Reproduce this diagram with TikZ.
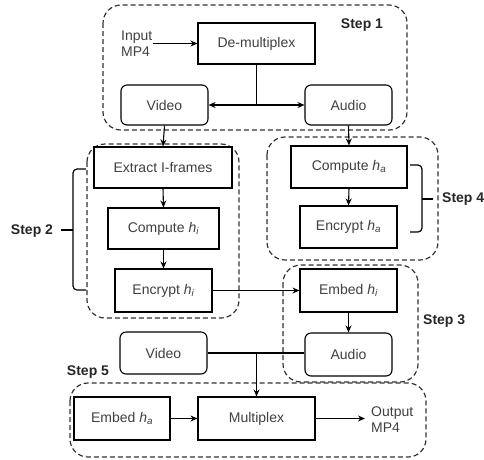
\documentclass[tikz,border=0pt]{standalone}
\usepackage{fontspec}
\setmainfont{Liberation Sans}
\usetikzlibrary{arrows.meta,calc}

\newcommand{\hs}[1]{\textit{h}\textsubscript{\textit{#1}}}

\begin{document}
\begin{tikzpicture}[x=1pt,y=-1pt,
  box/.style={draw=black, line width=1.1pt, fill=white, text=black!75,
    font=\fontsize{14}{16}\selectfont, inner sep=0pt},
  rbox/.style={box, rounded corners=6pt},
  frame/.style={draw=black!80, line width=1.2pt, dash pattern=on 5pt off 3pt,
    rounded corners=18pt},
  wire/.style={line width=1.1pt, draw=black},
  arr/.style={wire, -{Stealth[length=7pt,width=6pt]}},
  steplabel/.style={font=\fontsize{14}{16}\selectfont\bfseries, text=black!85, inner sep=0pt},
  plain/.style={font=\fontsize{14}{16}\selectfont, text=black!75, inner sep=0pt, align=left}
]
\useasboundingbox (0,0) rectangle (484,459);

% dashed step frames
\draw[frame] (103,5) rectangle (407,130);
\draw[frame] (87,144) rectangle (239,318);
\draw[frame] (267,137) rectangle (438,260);
\draw[frame] (283,265) rectangle (418,382);
\draw[frame] (70,383) rectangle (426,457);

% step 1
\node[plain, anchor=west] (inmp4) at (121,44) {Input\\MP4};
\node[box, minimum width=117pt, minimum height=41pt] (demux) at (256.5,43.5) {De-multiplex};
\node[rbox, minimum width=87pt, minimum height=40pt] (video1) at (164.5,105) {Video};
\node[rbox, minimum width=87pt, minimum height=40pt] (audio1) at (348.5,105) {Audio};
\node[steplabel] (s1) at (362,25) {Step 1};
\coordinate (j1) at (demux.south |- video1.east);

% step 2
\node[box, minimum width=138pt, minimum height=41pt] (extract) at (163,167.5) {Extract I-frames};
\node[box, minimum width=111pt, minimum height=41pt] (comphi) at (163.5,228.5) {Compute \hs{i}};
\node[box, minimum width=97pt, minimum height=43pt] (enchi) at (163.5,290.5) {Encrypt \hs{i}};
\node[steplabel] (s2) at (32,231) {Step 2};

% step 4
\node[box, minimum width=116pt, minimum height=42pt] (compha) at (349,167) {Compute \hs{a}};
\node[box, minimum width=97pt, minimum height=42pt] (encha) at (348.5,227) {Encrypt \hs{a}};
\node[steplabel, anchor=west] (s4) at (442,199) {Step 4};

% step 3
\node[box, minimum width=97pt, minimum height=43pt] (embhi) at (348.5,290.5) {Embed \hs{i}};
\node[rbox, minimum width=87pt, minimum height=43pt] (audio2) at (348.5,354.5) {Audio};
\node[steplabel, anchor=west] (s3) at (423,321) {Step 3};

% step 5
\node[rbox, minimum width=87pt, minimum height=42pt] (video2) at (163.5,353) {Video};
\node[steplabel] (s5) at (88,372) {Step 5};
\node[box, minimum width=96pt, minimum height=43pt] (embha) at (122,418.5) {Embed \hs{a}};
\node[box, minimum width=117pt, minimum height=43pt] (mux) at (256.5,418.5) {Multiplex};
\coordinate (outend) at (365,418.5);
\node[plain, anchor=west] (outmp4) at (371,420) {Output\\MP4};
\coordinate (j2) at (mux.north |- video2.east);

% connectors
\draw[arr] (inmp4.east |- demux.west) -- (demux.west);
\draw[wire] (demux.south) -- (j1);
\draw[arr] (j1) -- (video1.east);
\draw[arr] (j1) -- (audio1.west);
\draw[arr] (video1.south) -- (extract.north);
\draw[arr] (audio1.south) -- (compha.north);
\draw[arr] (extract.south) -- (comphi.north);
\draw[arr] (comphi.south) -- (enchi.north);
\draw[arr] (compha.south) -- (encha.north);
\draw[arr] (enchi.east) -- (embhi.west);
\draw[arr] (embhi.south) -- (audio2.north);
\draw[wire] (video2.east) -- (video2.east -| audio2.west);
\draw[arr] (j2) -- (mux.north);
\draw[arr] (embha.east) -- (mux.west);
\draw[arr] (mux.east) -- (outend);

% braces
\draw[wire, line width=1.2pt, rounded corners=4pt] (86,169) -- (73,169) -- (73,290) -- (86,290);
\draw[wire, line width=1.2pt] (73,230) -- (61,230);
\draw[wire, line width=1.2pt, rounded corners=4pt] (410,165) -- (422,165) -- (422,232) -- (410,232);
\draw[wire, line width=1.2pt] (422,199) -- (433,199);
\end{tikzpicture}
\end{document}
